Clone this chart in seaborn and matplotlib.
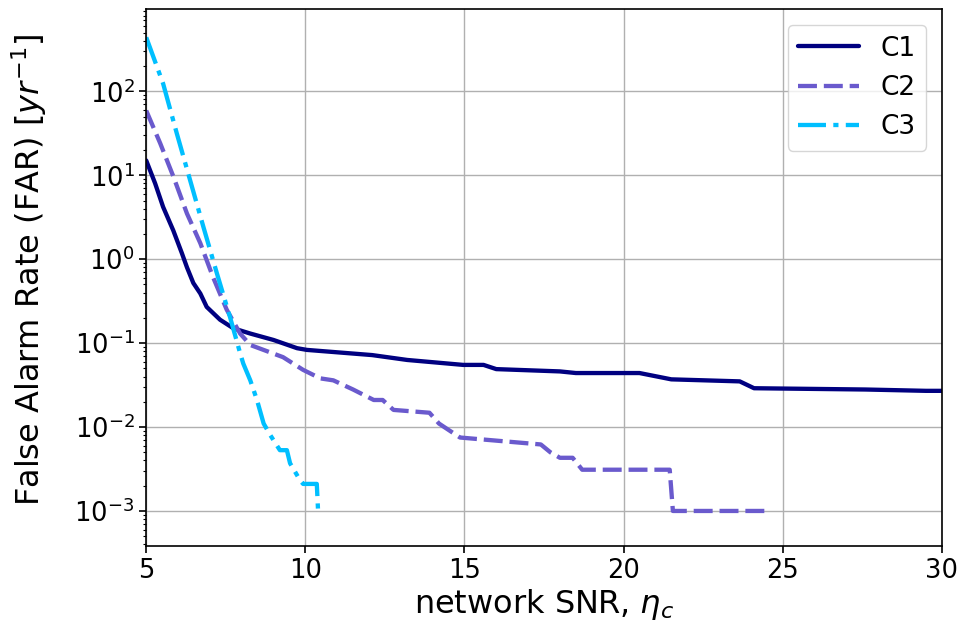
import matplotlib
matplotlib.use("Agg")
import matplotlib.pyplot as plt
from matplotlib.ticker import LogLocator, NullFormatter
import seaborn as sns
import pandas as pd
import numpy as np

# C1 (solid)
c1_x = [5.0, 5.28, 5.53, 5.85, 6.12, 6.28, 6.48, 6.7, 6.9, 7.32, 7.74, 8.27, 9.0, 9.74, 10.05, 12.1, 13.2, 14.96,
        15.6, 16.0, 18.0, 18.5, 20.5, 21.5, 23.65, 24.1, 27.6, 29.5, 30.0]
c1_y = [15.0, 8.0, 4.2, 2.2, 1.18, 0.80, 0.52, 0.39, 0.27, 0.19, 0.15, 0.13, 0.109, 0.087, 0.083, 0.072, 0.063, 0.055,
        0.055, 0.049, 0.046, 0.044, 0.044, 0.037, 0.035, 0.029, 0.028, 0.027, 0.027]

# C2 (dashed)
c2_x = [5.0, 5.44, 5.86, 6.28, 6.7, 7.1, 7.53, 7.95, 8.27, 9.3, 9.93, 10.47, 10.88, 11.5,
        12.15, 12.43, 12.77, 13.9, 14.2, 14.86, 17.4, 17.7, 18.0, 18.4, 18.7, 21.45, 21.55, 24.6]
c2_y = [59.0, 24.0, 9.5, 3.5, 1.55, 0.61, 0.25, 0.13, 0.095, 0.068, 0.048, 0.038, 0.036, 0.028,
        0.021, 0.021, 0.016, 0.0148, 0.011, 0.0075, 0.0062, 0.005, 0.0043, 0.0043, 0.0031, 0.0031, 0.001, 0.001]

# C3 (dash-dot)
c3_x = [5.0, 5.53, 5.96, 6.38, 6.8, 7.22, 7.64, 7.95, 8.05, 8.27, 8.48, 8.69, 8.9, 9.2,
        9.42, 9.52, 9.84, 9.93, 10.36, 10.4]
c3_y = [440.0, 124.0, 31.6, 8.7, 2.4, 0.68, 0.2, 0.076, 0.057, 0.036, 0.021, 0.011, 0.008, 0.0053,
        0.0053, 0.0037, 0.0023, 0.0021, 0.0021, 0.001]

labels = ["C1", "C2", "C3"]
colors = ["#000080", "#6A5ACD", "#00BFFF"]
dash_specs = [(None), (4.4, 1.6), (6.5, 1.7, 1.2, 1.7)]

sns.set_style("ticks")
plt.rcParams["font.family"] = ["DejaVu Sans"]
plt.rcParams["text.color"] = "black"
plt.rcParams["axes.labelcolor"] = "black"
plt.rcParams["xtick.color"] = "black"
plt.rcParams["ytick.color"] = "black"

fig = plt.figure(figsize=(9.62, 6.2), dpi=100)
ax = fig.add_axes([0.152, 0.119, 0.827, 0.866])

for xs, ys, lab, col, dsh in zip([c1_x, c2_x, c3_x], [c1_y, c2_y, c3_y], labels, colors, dash_specs):
    df = pd.DataFrame({"x": xs, "y": ys})
    sns.lineplot(data=df, x="x", y="y", ax=ax, color=col, linewidth=3.1,
                 label=lab, sort=False, estimator=None)
    line = ax.get_lines()[-1]
    if dsh is not None:
        line.set_dashes(dsh)

ax.set_yscale("log")
ax.set_xlim(5, 30)
ax.set_ylim(3.8e-4, 950)
ax.set_xticks([5, 10, 15, 20, 25, 30])
ax.yaxis.set_major_locator(LogLocator(base=10, numticks=20))
ax.yaxis.set_minor_locator(LogLocator(base=10, subs=np.arange(2, 10), numticks=100))
ax.yaxis.set_minor_formatter(NullFormatter())
ax.grid(True, which="major", color="#b0b0b0", linewidth=1.0)
for s in ax.spines.values():
    s.set_visible(True)
    s.set_color("black")
    s.set_linewidth(1.2)
ax.tick_params(axis="both", which="major", labelsize=18.5, direction="out", length=5, width=1.2,
               left=True, bottom=True, colors="black")
ax.tick_params(axis="y", which="minor", direction="out", length=2.5, width=0.8, left=True)
ax.set_xlabel(r"network SNR, $\eta_c$", fontsize=23)
ax.set_ylabel(r"False Alarm Rate (FAR) [$yr^{-1}$]", fontsize=23)
ax.xaxis.set_label_coords(0.5, -0.1248)
ax.xaxis.label.set_verticalalignment("baseline")
ax.yaxis.set_label_coords(-0.122, 0.514)
leg = ax.legend(loc="upper right", fontsize=19, frameon=True, fancybox=True, edgecolor="#cccccc",
                handlelength=2.3, borderaxespad=0.6)

fig.savefig("out.png", dpi=100)
